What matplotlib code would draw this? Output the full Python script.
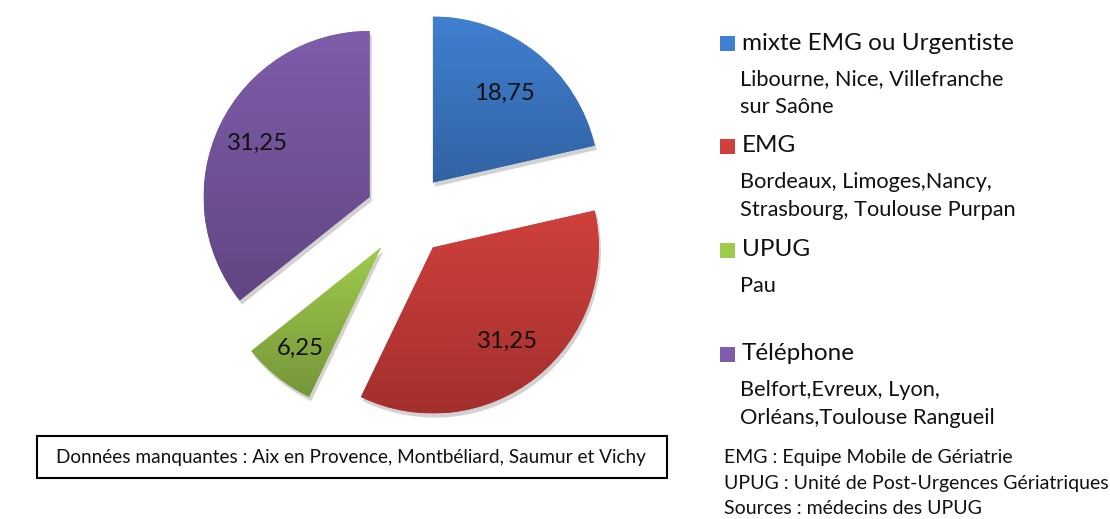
import matplotlib.pyplot as plt
import numpy as np
from matplotlib.colors import LinearSegmentedColormap
from matplotlib.patches import Rectangle
import matplotlib.patheffects as pe

# data
categories = ["mixte EMG ou Urgentiste", "EMG", "UPUG", "Téléphone"]
values = [18.75, 31.25, 6.25, 31.25]
value_labels = ["18,75", "31,25", "6,25", "31,25"]
cities = [
    ["Libourne, Nice, Villefranche", "sur Saône"],
    ["Bordeaux, Limoges,Nancy,", "Strasbourg, Toulouse Purpan"],
    ["Pau"],
    ["Belfort,Evreux, Lyon,", "Orléans,Toulouse Rangueil"],
]
missing_note = "Données manquantes : Aix en Provence, Montbéliard, Saumur et Vichy"
notes = ["EMG : Equipe Mobile de Gériatrie",
         "UPUG : Unité de Post-Urgences Gériatriques",
         "Sources : médecins des UPUG"]

# style
grad_colors = [("#3F80D0", "#3262A3"),
               ("#D0403C", "#A3302E"),
               ("#9FCB4C", "#76963A"),
               ("#7F5DAA", "#614682")]
font = "Lato"
W, H = 1110, 519


def fx(px):
    return px / W


def fy(py):
    return 1 - py / H


fig = plt.figure(figsize=(W / 100, H / 100), dpi=100)

# pie: centre at (407, 215) px, radius 166 px
r_px = 166
lim = 1.4
ax = fig.add_axes([fx(407 - lim * r_px), fy(215 + lim * r_px),
                   2 * lim * r_px / W, 2 * lim * r_px / H])
explode = [0.25] * len(values)
wedges, _ = ax.pie(values, startangle=90, counterclock=False,
                   explode=explode, radius=1,
                   wedgeprops=dict(linewidth=0))

label_r = [0.69, 0.72, 0.78, 0.75]
for w, (top, bot), lab, lr in zip(wedges, grad_colors, value_labels, label_r):
    w.set_facecolor(top)
    w.set_path_effects([pe.SimplePatchShadow(offset=(1.5, -3), shadow_rgbFace="#808080",
                                             alpha=0.35), pe.Normal()])
    ext = w.get_path().get_extents()
    cmap = LinearSegmentedColormap.from_list("g", [bot, top])
    grad = np.linspace(0, 1, 256).reshape(-1, 1)
    im = ax.imshow(grad, cmap=cmap, origin="lower", aspect="auto",
                   extent=[ext.x0, ext.x1, ext.y0, ext.y1], zorder=2)
    im.set_clip_path(w)
    ang = np.deg2rad((w.theta1 + w.theta2) / 2)
    cx, cy = w.center
    ax.text(cx + lr * np.cos(ang), cy + lr * np.sin(ang), lab,
            ha="center", va="center", fontsize=17.2, family=font,
            color="#111111", zorder=3)

ax.set_xlim(-lim, lim)
ax.set_ylim(-lim, lim)
ax.set_aspect("equal")
ax.axis("off")

# legend with city lists
head_y = [43, 146, 250, 354]
for i, cat in enumerate(categories):
    y = head_y[i]
    fig.patches.append(Rectangle((fx(720), fy(y + 8)), 15 / W, 15 / H,
                                 transform=fig.transFigure,
                                 facecolor=grad_colors[i][0], edgecolor="none"))
    fig.text(fx(742), fy(y), cat, ha="left", va="center",
             fontsize=17.5, family=font, color="#111111")
    for j, c in enumerate(cities[i]):
        fig.text(fx(740), fy(y + 36 + j * 28), c, ha="left", va="center",
                 fontsize=15.7, family=font, color="#111111")

# missing data box
fig.patches.append(Rectangle((fx(37), fy(478)), 630 / W, 42 / H,
                             transform=fig.transFigure, facecolor="white",
                             edgecolor="black", linewidth=1.5))
fig.text(fx(351), fy(458), missing_note, ha="center", va="center",
         fontsize=13.7, family=font, color="#111111")

for k, n in enumerate(notes):
    fig.text(fx(724), fy(458 + k * 25.5), n, ha="left", va="center",
             fontsize=14, family=font, color="#111111")

fig.savefig("out.png", dpi=100)
